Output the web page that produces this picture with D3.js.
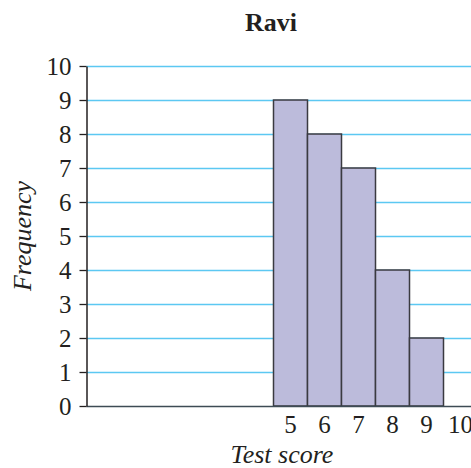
<!DOCTYPE html>
<html><head><meta charset="utf-8">
<script src="https://cdn.jsdelivr.net/npm/d3@7"></script>
<style>body{margin:0;background:#fff}svg{display:block}</style>
</head><body><svg id="c" width="471" height="468"></svg>
<script>
const scores = [5, 6, 7, 8, 9];
const frequencies = [9, 8, 7, 4, 2];
const xTickLabels = [5, 6, 7, 8, 9, 10];
const yTicks = [0,1,2,3,4,5,6,7,8,9,10];
const title = "Ravi", xTitle = "Test score", yTitle = "Frequency";

const FONT = "'Liberation Serif', 'DejaVu Serif', 'Times New Roman', serif";
const svg = d3.select("#c");
const W = 471;
const x = d3.scaleLinear().domain([-1, 10.5]).range([86.5, 477.5]);
const y = d3.scaleLinear().domain([0, 10]).range([406, 66]);

// gridlines
svg.append("g").selectAll("line").data(yTicks.filter(d => d > 0)).join("line")
  .attr("x1", x(-1)).attr("x2", W).attr("y1", d => y(d)+0.5).attr("y2", d => y(d)+0.5)
  .attr("stroke", "#5cc8f2").attr("stroke-width", 1.3);

// bars
svg.append("g").selectAll("rect").data(scores).join("rect")
  .attr("x", (d) => x(d - 0.5)).attr("width", x(1) - x(0))
  .attr("y", (d, i) => y(frequencies[i])).attr("height", (d, i) => y(0) - y(frequencies[i]))
  .attr("fill", "#bcbbdb").attr("stroke", "#3a3a40").attr("stroke-width", 1.5);

// x axis line
svg.append("line").attr("x1", x(-1)).attr("x2", W).attr("y1", y(0)+0.5).attr("y2", y(0)+0.5)
  .attr("stroke", "#3d4b55").attr("stroke-width", 1.5);

// y axis
const yAxis = d3.axisLeft(y).tickValues(yTicks).tickSize(7).tickPadding(8).tickSizeOuter(0);
const ga = svg.append("g").attr("transform", `translate(${x(-1)},0)`).call(yAxis)
  .attr("font-family", null).attr("font-size", null);
ga.select(".domain").attr("stroke", "#231f20").attr("stroke-width", 1.5);
ga.selectAll(".tick line").attr("stroke", "#231f20").attr("stroke-width", 1.3);
ga.selectAll(".tick text").style("font-size", "25px").style("font-family", FONT).attr("fill", "#231f20").attr("dy", "0.33em");

// x tick labels
svg.append("g").selectAll("text").data(xTickLabels).join("text")
  .attr("x", d => x(d)).attr("y", 433).attr("text-anchor", "middle")
  .style("font-family", FONT).style("font-size", "25px").attr("fill", "#231f20").text(d => d);

// titles
svg.append("text").attr("x", 271).attr("y", 31).attr("text-anchor", "middle")
  .style("font-family", FONT).style("font-size", "26px").style("font-weight", "bold").attr("fill", "#231f20").text(title);
svg.append("text").attr("x", 282).attr("y", 463).attr("text-anchor", "middle")
  .style("font-family", FONT).style("font-size", "26px").style("font-style", "italic").attr("fill", "#231f20").text(xTitle);
svg.append("text").attr("transform", "translate(31,236) rotate(-90)").attr("text-anchor", "middle")
  .style("font-family", FONT).style("font-size", "26px").style("font-style", "italic").attr("fill", "#231f20").text(yTitle);
</script></body></html>
